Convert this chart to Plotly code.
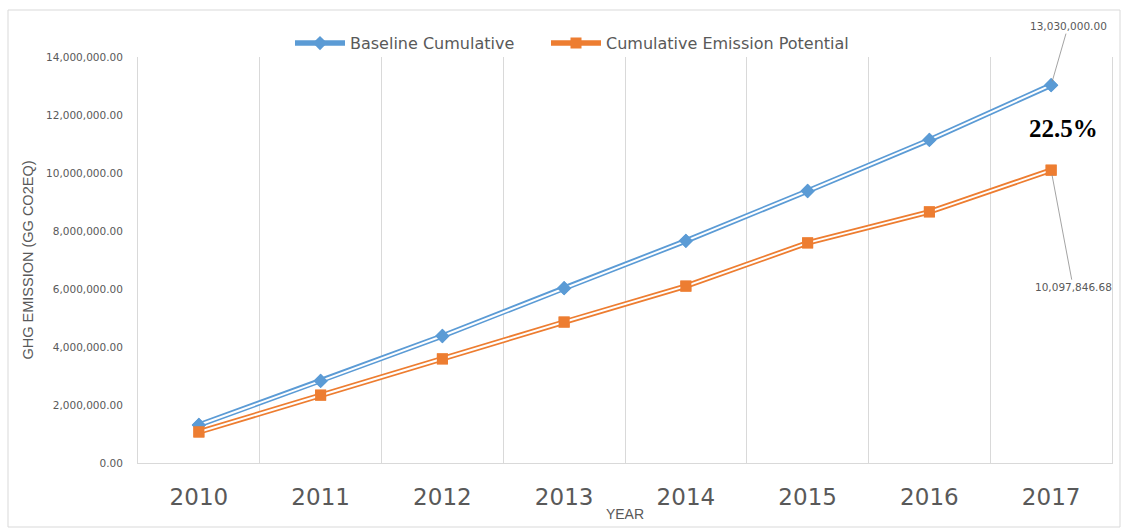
import plotly.graph_objects as go

years = [2010, 2011, 2012, 2013, 2014, 2015, 2016, 2017]
year_labels = [str(y) for y in years]
baseline = [1310000, 2830000, 4380000, 6030000, 7660000, 9380000, 11140000, 13030000]
potential = [1070000, 2340000, 3590000, 4860000, 6100000, 7590000, 8660000, 10097846.68]
series_names = ["Baseline Cumulative", "Cumulative Emission Potential"]
reduction_label = "22.5%"

BLUE = "#5B9BD5"
ORANGE = "#ED7D31"
GRAY = "#595959"
GRID = "#D9D9D9"

fig = go.Figure()

for name, vals, col, sym, msize, leg in [
    (series_names[0], baseline, BLUE, "diamond", 11, "legend"),
    (series_names[1], potential, ORANGE, "square", 11, "legend2"),
]:
    fig.add_trace(go.Scatter(x=years, y=vals, name=name, mode="lines+markers",
                             line=dict(color=col, width=5.5),
                             marker=dict(symbol=sym, size=msize, color=col),
                             legend=leg, hoverinfo="skip"))
    fig.add_trace(go.Scatter(x=years, y=vals, mode="lines", showlegend=False,
                             line=dict(color="white", width=2), hoverinfo="skip"))
    fig.add_trace(go.Scatter(x=years, y=vals, mode="markers", showlegend=False,
                             marker=dict(symbol=sym, size=msize, color=col),
                             hoverinfo="skip"))

fig.add_annotation(x=years[-1], y=baseline[-1], text="13,030,000.00",
                   showarrow=True, arrowhead=0, arrowwidth=0.8, arrowcolor="#8C8C8C",
                   ax=17, ay=-59, standoff=4,
                   font=dict(family="DejaVu Sans", size=10.5, color=GRAY))
fig.add_annotation(x=years[-1], y=potential[-1], text="10,097,846.68",
                   showarrow=True, arrowhead=0, arrowwidth=0.8, arrowcolor="#8C8C8C",
                   ax=22, ay=117, standoff=5,
                   font=dict(family="DejaVu Sans", size=10.5, color=GRAY))
fig.add_annotation(xref="paper", yref="paper", x=0.9497, y=0.825, text="<b>" + reduction_label + "</b>",
                   showarrow=False, xanchor="center", yanchor="middle",
                   font=dict(family="Liberation Serif", size=25, color="#000000"))

fig.add_shape(type="rect", xref="paper", yref="paper",
              x0=(8 - 138) / 974, x1=(1120 - 138) / 974,
              y0=(463 - 527) / 406, y1=(463 - 10) / 406,
              line=dict(color=GRID, width=1), fillcolor="rgba(0,0,0,0)", layer="below")

leg_common = dict(orientation="h", xanchor="left", y=1.034, yanchor="middle",
                  font=dict(family="DejaVu Sans", size=16, color=GRAY),
                  bgcolor="rgba(0,0,0,0)", itemwidth=50)

fig.update_layout(
    width=1125, height=528,
    margin=dict(l=138, r=13, t=57, b=65, autoexpand=False),
    paper_bgcolor="white", plot_bgcolor="white",
    showlegend=True,
    legend=dict(x=(290 - 138) / 974, **leg_common),
    legend2=dict(x=(546 - 138) / 974, **leg_common),
    xaxis=dict(range=[2009.5, 2017.5], tickvals=years, ticktext=year_labels,
               showgrid=False, zeroline=False, automargin=False,
               showline=True, linecolor=GRID, linewidth=1,
               ticks="outside", ticklen=13, tickcolor="rgba(0,0,0,0)",
               tickfont=dict(family="DejaVu Sans", size=23, color=GRAY),
               minor=dict(tick0=2009.5, dtick=1, showgrid=True, gridcolor=GRID, gridwidth=1),
               title=dict(text="YEAR", font=dict(family="Liberation Sans", size=14, color=GRAY),
                          standoff=0)),
    yaxis=dict(range=[0, 14000000], dtick=2000000, tickformat=",.2f",
               showgrid=False, zeroline=False, automargin=False,
               showline=True, linecolor=GRID, linewidth=1, mirror=True,
               ticks="outside", ticklen=12, tickcolor="rgba(0,0,0,0)",
               tickfont=dict(family="DejaVu Sans", size=10.5, color=GRAY),
               title=dict(text="GHG EMISSION (GG CO2EQ)",
                          font=dict(family="Liberation Sans", size=14.5, color=GRAY),
                          standoff=8)),
)

fig.write_html("out.html", config={"displayModeBar": False},
               post_script="document.body.style.margin='0';")
